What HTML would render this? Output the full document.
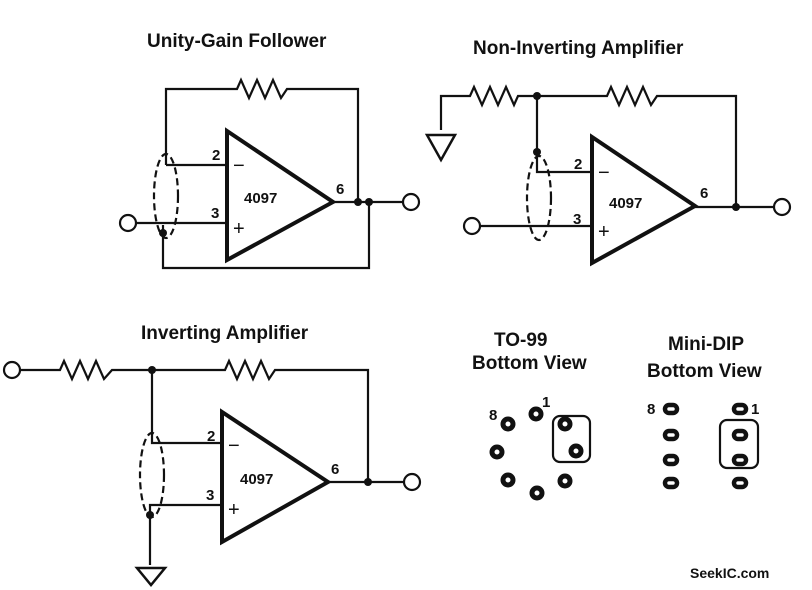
<!DOCTYPE html>
<html><head><style>body{margin:0;background:#fff}svg{display:block}</style></head><body>
<svg width="812" height="590" xmlns="http://www.w3.org/2000/svg" font-family="Liberation Sans, sans-serif" font-weight="bold">
<g stroke="#111" stroke-width="2.2" fill="none">
<!-- Unity gain -->
<polyline points="166,165 166,89 237,89 241,80 249,98 257,80 265,98 273,80 281,98 287,89 358,89 358,202"/>
<line x1="166" y1="165" x2="227" y2="165"/>
<line x1="136" y1="223" x2="227" y2="223"/>
<polyline points="163,225 163,268 369,268 369,202"/>
<line x1="333" y1="202" x2="403" y2="202"/>
<circle cx="411" cy="202" r="8" fill="#fff"/>
<circle cx="128" cy="223" r="8" fill="#fff"/>
<polygon points="227,131 227,260 333,202" stroke-width="4"/>
<ellipse cx="166" cy="196" rx="12" ry="42" stroke-dasharray="7,4"/>
<!-- Non-inverting -->
<polyline points="441,130 441,96 470,96 474,87 482,105 490,87 498,105 506,87 514,105 518,96 607,96 611,87 619,105 627,87 635,105 643,87 651,105 657,96 736,96 736,207"/>
<polyline points="537,96 537,172 592,172"/>
<polygon points="427,135 455,135 441,160" stroke-width="2.5"/>
<line x1="480" y1="226" x2="592" y2="226"/>
<circle cx="472" cy="226" r="8" fill="#fff"/>
<line x1="695" y1="207" x2="774" y2="207"/>
<circle cx="782" cy="207" r="8" fill="#fff"/>
<polygon points="592,137 592,263 695,206" stroke-width="4"/>
<ellipse cx="539" cy="198" rx="12" ry="42" stroke-dasharray="7,4"/>
<!-- Inverting -->
<polyline points="20,370 60,370 64,361 72,379 80,361 88,379 96,361 104,379 112,370 225,370 229,361 237,379 245,361 253,379 261,361 269,379 275,370 368,370 368,482"/>
<circle cx="12" cy="370" r="8" fill="#fff"/>
<polyline points="152,370 152,443 222,443"/>
<polyline points="222,505 150,505 150,565"/>
<polygon points="137,568 165,568 151,585" stroke-width="2.5"/>
<line x1="328" y1="482" x2="404" y2="482"/>
<circle cx="412" cy="482" r="8" fill="#fff"/>
<polygon points="222,412 222,542 328,482" stroke-width="4"/>
<ellipse cx="152" cy="475" rx="12" ry="42" stroke-dasharray="7,4"/>
<!-- TO-99 -->
<rect x="553" y="416" width="37" height="46" rx="7"/>
<rect x="720" y="420" width="38" height="48" rx="7"/>
</g>
<g fill="#111">
<circle cx="358" cy="202" r="4"/><circle cx="369" cy="202" r="4"/><circle cx="163" cy="233" r="4"/>
<circle cx="537" cy="96" r="4"/><circle cx="537" cy="152" r="4"/><circle cx="736" cy="207" r="4"/>
<circle cx="152" cy="370" r="4"/><circle cx="368" cy="482" r="4"/><circle cx="150" cy="515" r="4"/>
</g>
<g fill="#fff" stroke="#111" stroke-width="5">
<circle cx="536" cy="414" r="5"/><circle cx="508" cy="424" r="5"/><circle cx="565" cy="424" r="5"/>
<circle cx="497" cy="452" r="5"/><circle cx="576" cy="451" r="5"/><circle cx="508" cy="480" r="5"/>
<circle cx="565" cy="481" r="5"/><circle cx="537" cy="493" r="5"/>
</g>
<g fill="#fff" stroke="#111" stroke-width="4.5">
<rect x="665" y="405" width="12" height="8" rx="4"/><rect x="665" y="431" width="12" height="8" rx="4"/>
<rect x="665" y="456" width="12" height="8" rx="4"/><rect x="665" y="479" width="12" height="8" rx="4"/>
<rect x="734" y="405" width="12" height="8" rx="4"/><rect x="734" y="431" width="12" height="8" rx="4"/>
<rect x="734" y="456" width="12" height="8" rx="4"/><rect x="734" y="479" width="12" height="8" rx="4"/>
</g>
<g fill="#111" font-size="19">
<text x="147" y="47">Unity-Gain Follower</text>
<text x="473" y="54">Non-Inverting Amplifier</text>
<text x="141" y="339">Inverting Amplifier</text>
<text x="494" y="346">TO-99</text>
<text x="472" y="369">Bottom View</text>
<text x="668" y="350">Mini-DIP</text>
<text x="647" y="377">Bottom View</text>
</g>
<g fill="#111" font-size="15">
<text x="244" y="203">4097</text><text x="609" y="208">4097</text><text x="240" y="484">4097</text>
<text x="212" y="160">2</text><text x="211" y="218">3</text><text x="336" y="194">6</text>
<text x="574" y="169">2</text><text x="573" y="224">3</text><text x="700" y="198">6</text>
<text x="207" y="441">2</text><text x="206" y="500">3</text><text x="331" y="474">6</text>
<text x="489" y="420">8</text><text x="542" y="407">1</text>
<text x="647" y="414">8</text><text x="751" y="414">1</text>
<text x="690" y="578" font-size="14">SeekIC.com</text>
</g>
<g fill="#111" font-size="20" font-weight="normal">
<text x="233" y="172">−</text><text x="233" y="235">+</text>
<text x="598" y="179">−</text><text x="598" y="238">+</text>
<text x="228" y="452">−</text><text x="228" y="516">+</text>
</g>
</svg>
</body></html>
